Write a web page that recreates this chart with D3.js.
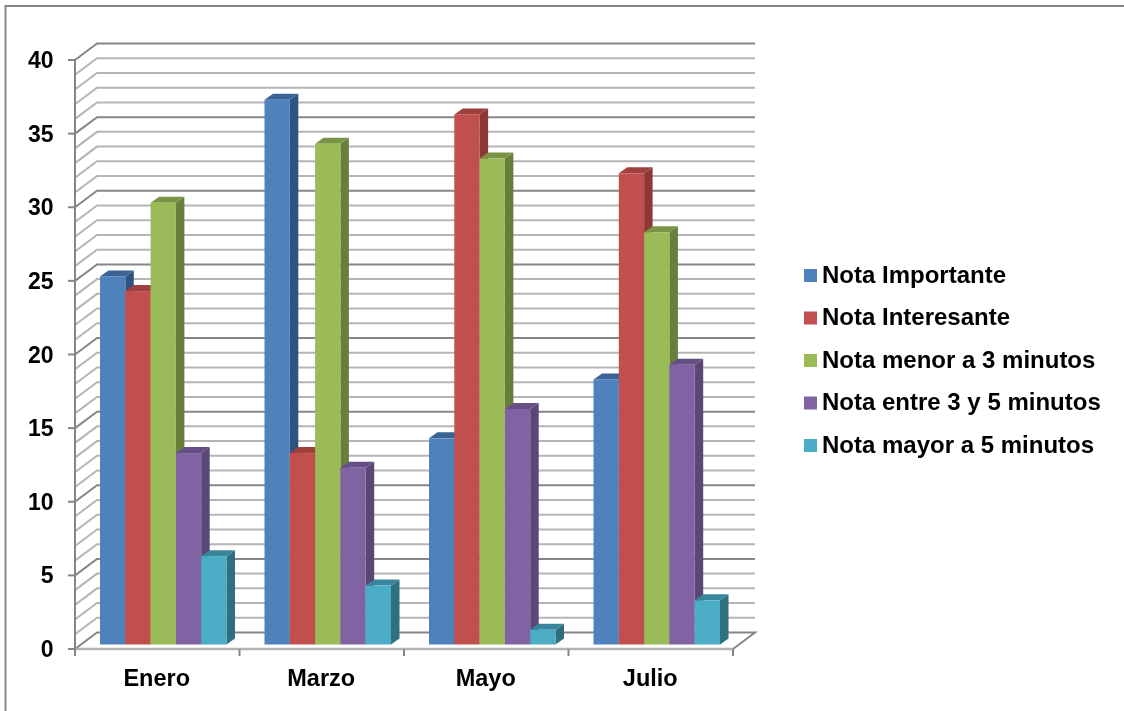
<!DOCTYPE html>
<html>
<head>
<meta charset="utf-8">
<title>Notas</title>
<script src="https://cdn.jsdelivr.net/npm/d3@7"></script>
<style>
  html, body { margin: 0; padding: 0; background: #fff; }
  svg { display: block; }
  text { font-family: "Liberation Sans", Arial, sans-serif; font-weight: bold; fill: #000; }
</style>
</head>
<body>
<div id="chart"></div>
<script>
const months = ['Enero', 'Marzo', 'Mayo', 'Julio'];
const seriesNames = ['Nota Importante', 'Nota Interesante', 'Nota menor a 3 minutos', 'Nota entre 3 y 5 minutos', 'Nota mayor a 5 minutos'];
const notaImportante = [25, 37, 14, 18];
const notaInteresante = [24, 13, 36, 32];
const notaMenor = [30, 34, 33, 28];
const notaEntre = [13, 12, 16, 19];
const notaMayor = [6, 4, 1, 3];
const seriesValues = [notaImportante, notaInteresante, notaMenor, notaEntre, notaMayor];
const frontColors = ['#4f81bd', '#c0504d', '#9bbb59', '#8064a2', '#4bacc6'];
const sideColors = ['#2f5380', '#8c3836', '#687f3a', '#5a4676', '#2f6f80'];
const topColors = ['#3b6496', '#a03f3c', '#7a9445', '#664f86', '#38869c'];
const yTicks = [0, 5, 10, 15, 20, 25, 30, 35, 40];
const gridSteps = d3.range(0, 41);

const width = 1124, height = 711;
const x0 = 75, x1 = 733, wallDx = 22, wallDy = -16.5;
const barDx = 8.5, barDy = -6;

const svg = d3.select('#chart').append('svg')
  .attr('width', width)
  .attr('height', height);

const defs = svg.append('defs');
defs.append('filter').attr('id', 'soft')
  .append('feGaussianBlur').attr('stdDeviation', 0.55);

const root = svg.append('g').attr('filter', 'url(#soft)');

// outer frame, only top and left show
root.append('path')
  .attr('d', `M5.5,${height} V6 H${width}`)
  .attr('fill', 'none')
  .attr('stroke', '#868686')
  .attr('stroke-width', 2);

const y = d3.scaleLinear().domain([0, 40]).range([649, 60]);
const yBar = d3.scaleLinear().domain([0, 40]).range([644.5, 55.5]);
const xCat = d3.scaleBand().domain(months).range([x0, x1]);
const xBar = d3.scaleBand().domain(d3.range(seriesNames.length))
  .range([25, 151.5]);

// gridlines on side and back wall
const grid = root.append('g').attr('fill', 'none');
gridSteps.forEach(v => {
  if (v === 0) return;
  const major = v % 5 === 0;
  grid.append('path')
    .attr('d', `M${x0},${y(v)} L${x0 + wallDx},${y(v) + wallDy} H${x1 + wallDx}`)
    .attr('stroke', major ? '#868686' : '#b5b5b5')
    .attr('stroke-width', 2);
});

// floor
grid.append('path')
  .attr('d', `M${x0},${y(0)} L${x0 + wallDx},${y(0) + wallDy} H${x1 + wallDx} L${x1},${y(0)}`)
  .attr('stroke', '#868686')
  .attr('stroke-width', 2);
grid.append('path')
  .attr('d', `M${x0},${y(0)} H${x1}`)
  .attr('stroke', '#b3b3b3')
  .attr('stroke-width', 2.5);

// axes
const axisG = root.append('g').attr('fill', 'none').attr('stroke', '#868686').attr('stroke-width', 2);
axisG.append('path').attr('d', `M${x0},${y(40)} V${y(0) + 7}`);
yTicks.forEach(v => {
  axisG.append('path').attr('d', `M${x0 - 7},${y(v)} H${x0}`);
});
months.concat(['end']).forEach(m => {
  const tx = m === 'end' ? x1 : xCat(m);
  axisG.append('path').attr('d', `M${tx},${y(0)} V${y(0) + 7}`);
});

// bars
months.forEach((m, mi) => {
  const group = root.append('g').attr('transform', `translate(${xCat(m)},0)`);
  seriesNames.forEach((s, si) => {
    const val = seriesValues[si][mi];
    const bx = xBar(si), bw = xBar.bandwidth();
    const top = yBar(val), base = yBar(0);
    group.append('path')
      .attr('d', `M${bx + bw},${top} l${barDx},${barDy} V${base + barDy} l${-barDx},${-barDy} Z`)
      .attr('fill', sideColors[si]);
    group.append('path')
      .attr('d', `M${bx},${top} l${barDx},${barDy} h${bw} l${-barDx},${-barDy} Z`)
      .attr('fill', topColors[si]);
    group.append('rect')
      .attr('x', bx).attr('y', top)
      .attr('width', bw).attr('height', base - top)
      .attr('fill', frontColors[si]);
  });
});

// tick labels
root.append('g').selectAll('text').data(yTicks).join('text')
  .attr('x', 53.5)
  .attr('y', d => y(d) + 8)
  .attr('text-anchor', 'end')
  .attr('font-size', 23)
  .text(d => d);

root.append('g').selectAll('text').data(months).join('text')
  .attr('x', d => xCat(d) + xCat.bandwidth() / 2 - 0.5)
  .attr('y', 686)
  .attr('text-anchor', 'middle')
  .attr('font-size', 23.5)
  .text(d => d);

// legend
const legendY = d3.scalePoint().domain(seriesNames).range([275.5, 445.5]);
const legend = root.append('g').selectAll('g').data(seriesNames).join('g')
  .attr('transform', d => `translate(804,${legendY(d)})`);
legend.append('rect')
  .attr('x', 0).attr('y', -6.5)
  .attr('width', 13).attr('height', 13)
  .attr('fill', (d, i) => frontColors[i]);
legend.append('text')
  .attr('x', 18).attr('y', 7)
  .attr('font-size', 24)
  .text(d => d);
</script>
</body>
</html>
